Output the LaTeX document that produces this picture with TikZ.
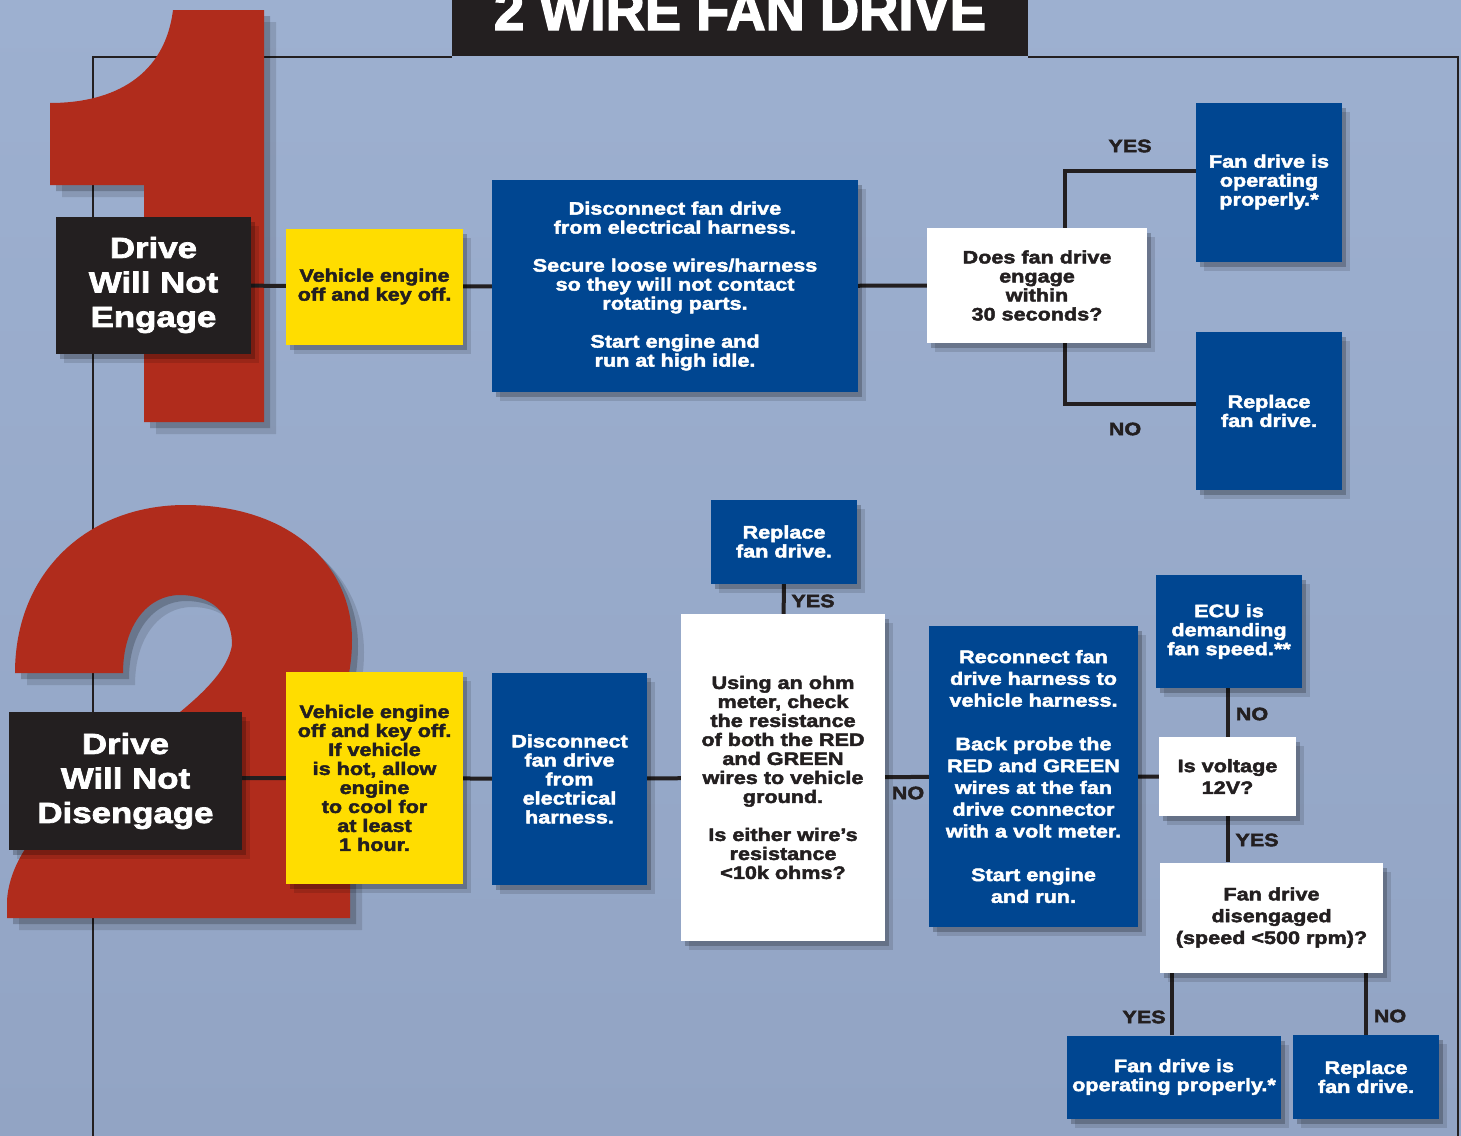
\documentclass[tikz,border=0pt]{standalone}
\usepackage{fontspec}
\setmainfont{Liberation Sans}[FakeStretch=1.2,BoldFeatures={FakeBold=2.5}]
\newfontfamily\titlefont{Liberation Sans}[FakeStretch=0.97,BoldFeatures={FakeBold=2.5}]
\usetikzlibrary{backgrounds,shadows,calc}

\definecolor{paper}{RGB}{157,176,208}
\definecolor{paperlow}{RGB}{146,164,196}
\definecolor{numred}{RGB}{176,44,28}
\definecolor{boxblue}{RGB}{0,70,145}
\definecolor{boxyellow}{RGB}{255,221,0}
\definecolor{ink}{RGB}{35,31,32}

\pgfdeclarelayer{back}
\pgfsetlayers{back,background,main}

\tikzset{
  sz/.style 2 args={minimum width=#1pt,minimum height=#2pt},
  box/.style={rectangle,inner sep=0pt,align=center,
    font=\bfseries\fontsize{18}{19}\selectfont,
    drop shadow={shadow xshift=8pt,shadow yshift=-9pt,opacity=.12,fill=black},
    drop shadow={shadow xshift=4pt,shadow yshift=-5pt,opacity=.22,fill=black}},
  bluebox/.style={box,fill=boxblue,text=white},
  whitebox/.style={box,fill=white,text=ink},
  yellowbox/.style={box,fill=boxyellow,text=ink},
  headbox/.style={box,fill=ink,text=white,font=\bfseries\fontsize{29}{34.5}\selectfont},
  wide/.style={font=\bfseries\fontsize{18}{21.8}\selectfont},
  link/.style={draw=ink,line width=4pt},
  lbl/.style={text=ink,inner sep=0pt,font=\bfseries\fontsize{18}{19}\selectfont},
  frame/.style={draw=ink,line width=2pt},
  numshadow/.style={drop shadow={shadow xshift=12pt,shadow yshift=-12pt,opacity=.12,fill=black},
    drop shadow={shadow xshift=6pt,shadow yshift=-6pt,opacity=.2,fill=black}}
}

\begin{document}
\begin{tikzpicture}[x=1pt,y=-1pt]
  \useasboundingbox (0,0) rectangle (1461,1135);
  % paper, frame and the big numbers
  \begin{pgfonlayer}{back}
    \shade[top color=paper,bottom color=paperlow] (0,0) rectangle (1461,1135);
    \draw[frame] (452,57) -- (93,57) -- (93,1140);
    \draw[frame] (1028,57) -- (1458,57) -- (1458,1140);
    \fill[numred,numshadow] (173,10) -- (264,10) -- (264,422) -- (144,422) -- (144,185)
      -- (50,185) -- (50,103) .. controls (115,103) and (165,75) .. (173,10) -- cycle;
    \fill[numred,numshadow] (15,673) .. controls (15,570) and (90,505) .. (185,505)
      .. controls (290,505) and (352,565) .. (352,640)
      .. controls (352,720) and (300,775) .. (290,820) -- (350,820) -- (350,918)
      -- (7,918) -- (7,900) .. controls (15,790) and (220,720) .. (232,645)
      .. controls (232,612) and (210,595) .. (180,595)
      .. controls (148,595) and (123,625) .. (123,673) -- cycle;
    \fill[ink] (452,-5) rectangle (1028,56);
  \end{pgfonlayer}
  \node[text=white,inner sep=0pt,anchor=base,
    font=\titlefont\bfseries\fontsize{56}{56}\selectfont] (title) at (740,30) {2 WIRE FAN DRIVE};

  % 1: drive will not engage
  \node[headbox,sz={195}{137}] (eng) at (153.5,285) {Drive\\Will Not\\Engage};
  \node[yellowbox,sz={177}{116}] (prep1) at (374.5,286.5) {Vehicle engine\\off and key off.};
  \node[bluebox,sz={366}{212}] (disc1) at (675,286) {Disconnect fan drive\\from electrical harness.\\[19pt]Secure loose wires/harness\\so they will not contact\\rotating parts.\\[19pt]Start engine and\\run at high idle.};
  \node[whitebox,sz={220}{115}] (q1) at (1037,285.5) {Does fan drive\\engage\\within\\30 seconds?};
  \node[bluebox,sz={146}{159}] (ok1) at (1269,182) {Fan drive is\\operating\\properly.*};
  \node[bluebox,sz={146}{158}] (rep1) at (1269,411) {Replace\\fan drive.};
  \node[lbl] (yes1) at (1130,146) {YES};
  \node[lbl] (no1) at (1125,429) {NO};

  % 2: drive will not disengage
  \node[headbox,sz={233}{138}] (dis) at (125.5,781) {Drive\\Will Not\\Disengage};
  \node[yellowbox,sz={177}{212}] (prep2) at (374.5,778) {Vehicle engine\\off and key off.\\If vehicle\\is hot, allow\\engine\\to cool for\\at least\\1 hour.};
  \node[bluebox,sz={155}{212}] (disc2) at (569.5,779) {Disconnect\\fan drive\\from\\electrical\\harness.};
  \node[whitebox,sz={204}{327}] (ohm) at (783,777.5) {Using an ohm\\meter, check\\the resistance\\of both the RED\\and GREEN\\wires to vehicle\\ground.\\[19pt]Is either wire’s\\resistance\\<10k ohms?};
  \node[bluebox,sz={146}{84}] (rep2) at (784,541.5) {Replace\\fan drive.};
  \node[bluebox,wide,sz={209}{301}] (probe) at (1033.5,776.5) {Reconnect fan\\drive harness to\\vehicle harness.\\[21.8pt]Back probe the\\RED and GREEN\\wires at the fan\\drive connector\\with a volt meter.\\[21.8pt]Start engine\\and run.};
  \node[bluebox,sz={146}{113}] (ecu) at (1229,631.5) {ECU is\\demanding\\fan speed.**};
  \node[whitebox,wide,sz={137}{79}] (volt) at (1227.5,776.5) {Is voltage\\12V?};
  \node[whitebox,wide,sz={223}{110}] (dsg) at (1271.5,917.5) {Fan drive\\disengaged\\(speed <500 rpm)?};
  \node[bluebox,sz={214}{83}] (ok2) at (1174,1077) {Fan drive is\\operating properly.*};
  \node[bluebox,sz={146}{84}] (rep3) at (1366,1077) {Replace\\fan drive.};
  \node[lbl] (yes2) at (813,601) {YES};
  \node[lbl] (no2) at (908,793) {NO};
  \node[lbl] (no3) at (1252,714) {NO};
  \node[lbl] (yes3) at (1257,840) {YES};
  \node[lbl] (yes4) at (1144,1017) {YES};
  \node[lbl] (no4) at (1390,1016) {NO};

  \begin{scope}[on background layer]
    \draw[link] (eng) -- (prep1) -- (disc1) -- (q1);
    \draw[link] ([yshift=11.5pt]ok1.west) -| ([xshift=28pt]q1.center);
    \draw[link] ([yshift=7pt]rep1.west) -| ([xshift=28pt]q1.center);
    \draw[link] (dis.east |- prep2) -- (prep2) -- (disc2) -- (ohm) -- (probe) -- (volt);
    \draw[link] (rep2) -- (ohm);
    \draw[link] (volt.north) -- (volt.north |- ecu.south);
    \draw[link] (volt.south) -- (volt.south |- dsg.north);
    \draw[link] ([xshift=-2pt]ok2.north) -- ([xshift=-2pt]ok2.north |- dsg.south);
    \draw[link] (rep3.north) -- (rep3.north |- dsg.south);
  \end{scope}
\end{tikzpicture}
\end{document}
